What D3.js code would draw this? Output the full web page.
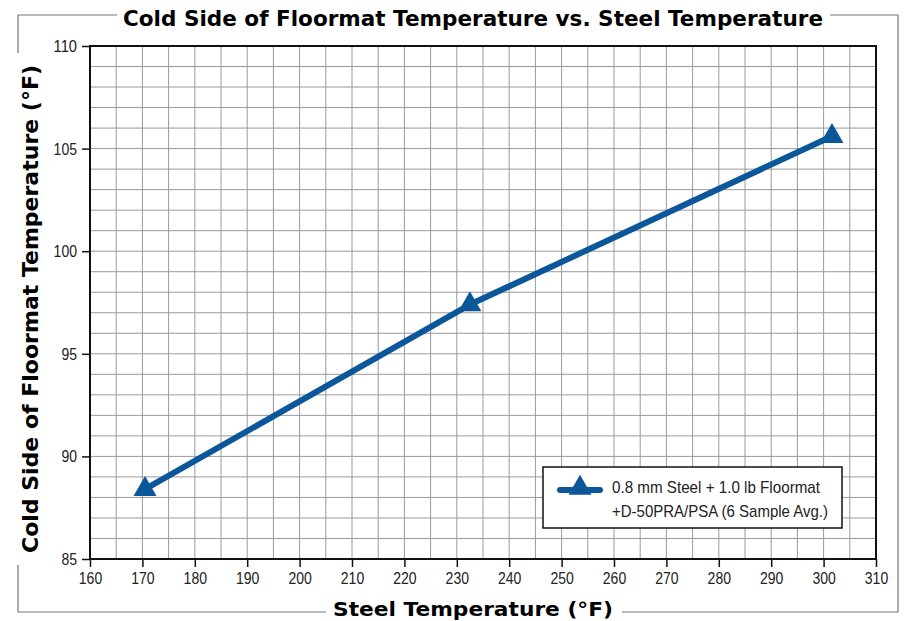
<!DOCTYPE html>
<html>
<head>
<meta charset="utf-8">
<script src="https://cdn.jsdelivr.net/npm/d3@7"></script>
<style>
  body { margin: 0; background: #fff; }
  .tick text { font-family: "Liberation Sans", sans-serif; font-size: 17px; fill: #222; }
</style>
</head>
<body>
<div id="chart"></div>
<script>
// data
const steelTemp = [170.5, 232.5, 301.6];
const coldSide = [88.4, 97.4, 105.6];
const seriesName = ["0.8 mm Steel + 1.0 lb Floormat", "+D-50PRA/PSA (6 Sample Avg.)"];
const xTicks = [160, 170, 180, 190, 200, 210, 220, 230, 240, 250, 260, 270, 280, 290, 300, 310];
const yTicks = [85, 90, 95, 100, 105, 110];

const width = 905, height = 621;
const margin = { top: 46, right: 29, bottom: 62, left: 90 };
const blue = "#0b5799";

const svg = d3.select("#chart").append("svg")
  .attr("width", width)
  .attr("height", height);

const x = d3.scaleLinear().domain([160, 310]).range([margin.left, width - margin.right]);
const y = d3.scaleLinear().domain([85, 110]).range([height - margin.bottom, margin.top]);

// outer frame with gaps for the titles
const frame = svg.append("g").attr("stroke", "#777").attr("stroke-width", 1.2).attr("fill", "none");
frame.append("path").attr("d", "M18,53 V15 H117");
frame.append("path").attr("d", "M830,15 H898 V612 H622");
frame.append("path").attr("d", "M326,612 H18 V565");

// grid
const grid = svg.append("g").attr("stroke", "#9a9a9a").attr("stroke-width", 1);
grid.selectAll(".gx").data(d3.range(165, 310, 5)).enter().append("line")
  .attr("x1", d => x(d)).attr("x2", d => x(d))
  .attr("y1", y(85)).attr("y2", y(110));
grid.selectAll(".gy").data(d3.range(86, 110, 1)).enter().append("line")
  .attr("x1", x(160)).attr("x2", x(310))
  .attr("y1", d => y(d)).attr("y2", d => y(d));

// plot border
svg.append("rect")
  .attr("x", x(160)).attr("y", y(110))
  .attr("width", x(310) - x(160)).attr("height", y(85) - y(110))
  .attr("fill", "none").attr("stroke", "#111").attr("stroke-width", 2);

// condensed look for tick labels
const squeeze = sel => sel.selectAll(".tick text")
  .attr("textLength", function() { return this.textContent.length * 7.8; })
  .attr("lengthAdjust", "spacingAndGlyphs");

// axes
svg.append("g")
  .attr("transform", `translate(0,${y(85)})`)
  .call(d3.axisBottom(x).tickValues(xTicks).tickSize(8).tickPadding(5))
  .call(g => g.select(".domain").remove())
  .call(g => g.selectAll(".tick line").attr("stroke", "#111").attr("stroke-width", 1.5))
  .call(squeeze);

svg.append("g")
  .attr("transform", `translate(${x(160)},0)`)
  .call(d3.axisLeft(y).tickValues(yTicks).tickSize(8).tickPadding(5))
  .call(g => g.select(".domain").remove())
  .call(g => g.selectAll(".tick line").attr("stroke", "#111").attr("stroke-width", 1.5))
  .call(squeeze);

// series
const pts = steelTemp.map((d, i) => [d, coldSide[i]]);
svg.append("path")
  .datum(pts)
  .attr("fill", "none")
  .attr("stroke", blue)
  .attr("stroke-width", 6)
  .attr("stroke-linejoin", "round")
  .attr("d", d3.line().x(d => x(d[0])).y(d => y(d[1])));

const tri = d3.symbol().type(d3.symbolTriangle).size(230);
svg.selectAll(".pt").data(pts).enter().append("path")
  .attr("transform", d => `translate(${x(d[0])},${y(d[1])})`)
  .attr("d", tri)
  .attr("fill", blue);

// legend
const lg = svg.append("g").attr("transform", "translate(543,467)");
lg.append("rect").attr("width", 299).attr("height", 61)
  .attr("fill", "#fff").attr("stroke", "#111").attr("stroke-width", 1.5);
lg.append("line").attr("x1", 17).attr("x2", 57).attr("y1", 23).attr("y2", 23)
  .attr("stroke", blue).attr("stroke-width", 6).attr("stroke-linecap", "round");
lg.append("path").attr("transform", "translate(37,21)").attr("d", tri).attr("fill", blue);
lg.selectAll(".lt").data(seriesName).enter().append("text")
  .attr("x", 69).attr("y", (d, i) => 26 + i * 24)
  .style("font-family", "'Liberation Sans', sans-serif")
  .style("font-size", "17px").attr("fill", "#222")
  .attr("textLength", (d, i) => i === 0 ? 208 : 216)
  .attr("lengthAdjust", "spacingAndGlyphs")
  .text(d => d);

// titles
const titleFont = "'DejaVu Sans', sans-serif";
svg.append("text")
  .attr("x", 473).attr("y", 26)
  .attr("text-anchor", "middle")
  .style("font-family", titleFont).style("font-weight", "bold").style("font-size", "21px")
  .attr("textLength", 700).attr("lengthAdjust", "spacingAndGlyphs")
  .text("Cold Side of Floormat Temperature vs. Steel Temperature");

svg.append("text")
  .attr("x", 473).attr("y", 616)
  .attr("text-anchor", "middle")
  .style("font-family", titleFont).style("font-weight", "bold").style("font-size", "20px")
  .attr("textLength", 280).attr("lengthAdjust", "spacingAndGlyphs")
  .text("Steel Temperature (°F)");

svg.append("text")
  .attr("transform", "translate(38,309) rotate(-90)")
  .attr("text-anchor", "middle")
  .style("font-family", titleFont).style("font-weight", "bold").style("font-size", "21px")
  .attr("textLength", 488).attr("lengthAdjust", "spacingAndGlyphs")
  .text("Cold Side of Floormat Temperature (°F)");
</script>
</body>
</html>
